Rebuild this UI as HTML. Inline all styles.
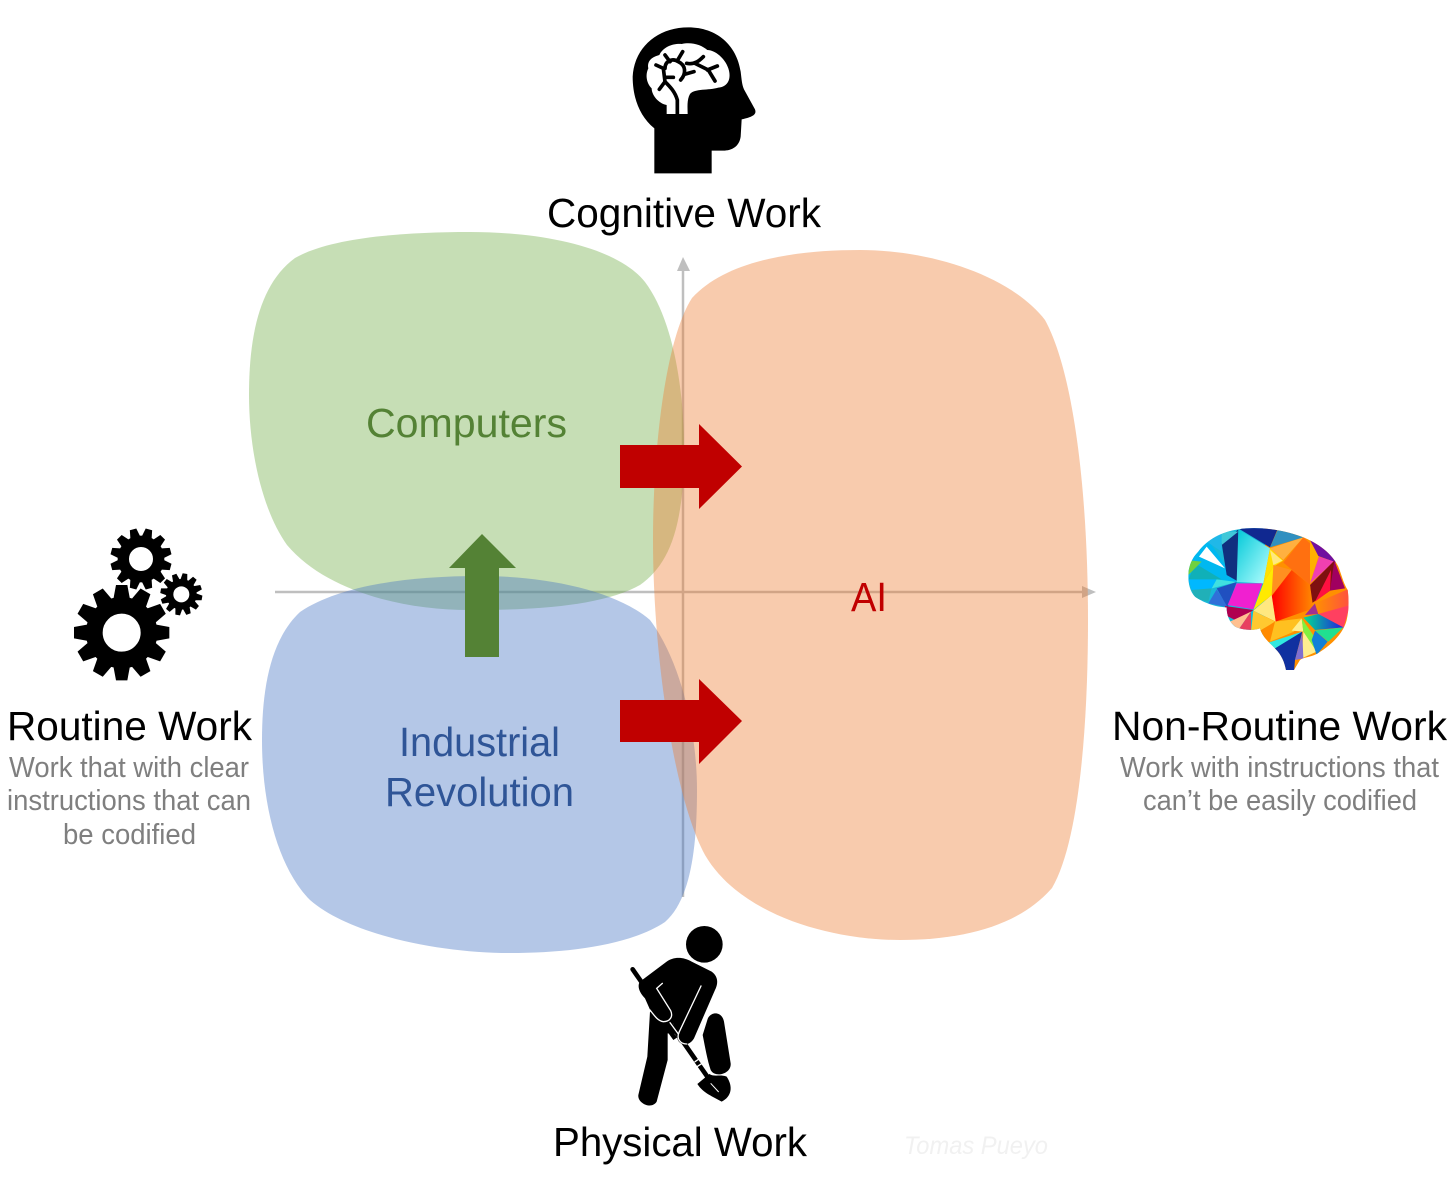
<!DOCTYPE html>
<html><head><meta charset="utf-8"><style>
html,body{margin:0;padding:0;background:#fff}
svg{display:block}
text{font-family:"Liberation Sans",sans-serif}
</style></head><body>
<svg width="1456" height="1184" viewBox="0 0 1456 1184" xmlns="http://www.w3.org/2000/svg">
<rect width="1456" height="1184" fill="#fff"/>
<defs>
<linearGradient id="g1" x1="0" y1="0" x2="1" y2="0"><stop offset="0" stop-color="#ff0000"/><stop offset="1" stop-color="#ff8a00"/></linearGradient>
<linearGradient id="g2" x1="0" y1="0" x2="1" y2="1"><stop offset="0" stop-color="#00c8d8"/><stop offset="1" stop-color="#b8ffff"/></linearGradient>
<linearGradient id="g3" x1="0" y1="0" x2="1" y2="0"><stop offset="0" stop-color="#ff9000"/><stop offset="1" stop-color="#ff5040"/></linearGradient>
<linearGradient id="g4" x1="0" y1="0" x2="1" y2="0"><stop offset="0" stop-color="#00e090"/><stop offset="1" stop-color="#2020e0"/></linearGradient>
<clipPath id="bc"><path d="M40 170C40 140 50 115 70 95C95 60 140 35 190 28C240 20 310 25 380 50C430 70 470 100 490 140C500 165 505 190 518 210C522 240 522 270 515 300C505 340 470 375 425 402C405 412 385 412 375 420L357 450H333C328 425 320 405 300 385C280 365 262 350 255 325C235 333 200 330 180 320C162 305 155 285 155 262C120 262 80 245 60 230C45 215 40 190 40 170Z"/></clipPath>
<path id="t1" fill="#000" d="M-25 -100L-17 -143H17L25 -100Z"/>
<path id="t2" fill="#000" d="M-16 -62L-10 -92H10L16 -62Z"/>
<path id="t3" fill="#000" d="M-11 -40L-7 -63H7L11 -40Z"/>
</defs>

<!-- axes -->
<g stroke="#bfbfbf" stroke-width="2.500" fill="#bfbfbf">
<line x1="275" y1="592" x2="1084" y2="592"/>
<line x1="683" y1="897" x2="683" y2="270"/>
<path d="M1096 592L1082 586V598Z" stroke="none"/>
<path d="M683 257L677 271H690Z" stroke="none"/>
</g>

<!-- blobs -->
<path fill="#70ad47" fill-opacity=".4" d="M470 232C545 232 618 248 645 282C672 318 684 385 684 450C684 530 668 565 640 585C600 607 530 610 470 610C400 610 325 590 287 545C262 510 249 450 249 395C249 340 258 285 295 258C330 238 400 232 470 232Z"/>
<path fill="#4472c4" fill-opacity=".4" d="M480 576C545 576 615 590 650 620C680 660 697 730 697 790C697 850 690 900 665 922C630 945 570 953 510 953C440 953 350 935 310 900C280 870 262 810 262 740C262 690 270 640 300 612C340 585 410 576 480 576Z"/>
<path fill="#ed7d31" fill-opacity=".4" d="M860 250C930 250 1010 275 1045 320C1075 375 1088 500 1088 620C1088 720 1080 840 1052 888C1020 925 965 940 900 940C830 940 740 915 705 855C675 800 653 660 653 540C653 450 665 340 692 298C725 262 790 250 860 250Z"/>

<!-- arrows -->
<path fill="#c00000" d="M620 445H699V424L742 466.500L699 509V488H620Z"/>
<path fill="#c00000" d="M620 700H699V679L742 721L699 764V742H620Z"/>
<path fill="#548235" d="M465 657V568H449L482 534L516 568H499V657Z"/>

<!-- labels -->
<text x="547" y="227" font-size="41" textLength="274" lengthAdjust="spacingAndGlyphs" fill="#000">Cognitive Work</text>
<text x="366" y="437" font-size="41" textLength="201" lengthAdjust="spacingAndGlyphs" fill="#548235">Computers</text>
<text x="399" y="756" font-size="41" textLength="161" lengthAdjust="spacingAndGlyphs" fill="#2f5597">Industrial</text>
<text x="385" y="806" font-size="41" textLength="189" lengthAdjust="spacingAndGlyphs" fill="#2f5597">Revolution</text>
<text x="851" y="611" font-size="41" textLength="36" lengthAdjust="spacingAndGlyphs" fill="#c00000">AI</text>
<text x="7" y="740" font-size="41" textLength="245" lengthAdjust="spacingAndGlyphs" fill="#000">Routine Work</text>
<text x="9" y="777" font-size="29" textLength="240" lengthAdjust="spacingAndGlyphs" fill="#7f7f7f">Work that with clear</text>
<text x="7" y="810" font-size="29" textLength="244" lengthAdjust="spacingAndGlyphs" fill="#7f7f7f">instructions that can</text>
<text x="63" y="844" font-size="29" textLength="133" lengthAdjust="spacingAndGlyphs" fill="#7f7f7f">be codified</text>
<text x="1112" y="740" font-size="41" textLength="335" lengthAdjust="spacingAndGlyphs" fill="#000">Non-Routine Work</text>
<text x="1120" y="777" font-size="29" textLength="319" lengthAdjust="spacingAndGlyphs" fill="#7f7f7f">Work with instructions that</text>
<text x="1143" y="810" font-size="29" textLength="274" lengthAdjust="spacingAndGlyphs" fill="#7f7f7f">can’t be easily codified</text>
<text x="553" y="1156" font-size="41" textLength="254" lengthAdjust="spacingAndGlyphs" fill="#000">Physical Work</text>
<text x="904" y="1154" font-size="25" font-style="italic" textLength="144" lengthAdjust="spacingAndGlyphs" fill="#f1f1f1">Tomas Pueyo</text>

<!-- head -->
<g transform="translate(620,20) scale(.33333)">
<path fill="#000" d="M103 460V325C60 290 38 235 38 170C42 85 110 22 205 22C290 22 350 75 362 155C365 180 366 195 372 208L405 268C410 282 402 290 365 298L362 350C358 380 335 392 310 392H275V460Z"/>
<path fill="#fff" d="M140 282V255C115 250 95 225 95 205C80 190 75 165 85 145C80 120 100 110 118 105C130 80 160 70 185 72C215 65 245 75 262 90C285 90 315 115 325 145C335 175 325 200 295 203C265 212 225 205 210 222C200 240 203 262 203 282Z"/>
<g fill="none" stroke="#000" stroke-width="11" stroke-linecap="round">
<path d="M172 282V240C165 215 150 200 135 185L130 145L108 135"/>
<path d="M135 185L118 208"/>
<path d="M135 172L160 172"/>
<path d="M135 145C135 125 155 112 175 125C197 135 200 160 182 180"/>
<path d="M150 125L135 105"/>
<path d="M172 122L188 95"/>
<path d="M200 130C225 135 240 120 250 110"/>
<path d="M225 130L265 150L285 183"/>
<path d="M262 150L292 138"/>
<path d="M197 162L222 155"/>
</g>
<path fill="none" stroke="#000" stroke-width="6" d="M172 282V240"/>
</g>

<!-- gears -->
<g transform="translate(65,520) scale(.33333)">
<g transform="translate(228,117)">
<circle r="53" fill="none" stroke="#000" stroke-width="34"/>
<use href="#t2" transform="rotate(15)"/><use href="#t2" transform="rotate(45)"/><use href="#t2" transform="rotate(75)"/><use href="#t2" transform="rotate(105)"/><use href="#t2" transform="rotate(135)"/><use href="#t2" transform="rotate(165)"/><use href="#t2" transform="rotate(195)"/><use href="#t2" transform="rotate(225)"/><use href="#t2" transform="rotate(255)"/><use href="#t2" transform="rotate(285)"/><use href="#t2" transform="rotate(315)"/><use href="#t2" transform="rotate(345)"/>
</g>
<g transform="translate(349,223)">
<circle r="35" fill="none" stroke="#000" stroke-width="22"/>
<use href="#t3" transform="rotate(10)"/><use href="#t3" transform="rotate(40)"/><use href="#t3" transform="rotate(70)"/><use href="#t3" transform="rotate(100)"/><use href="#t3" transform="rotate(130)"/><use href="#t3" transform="rotate(160)"/><use href="#t3" transform="rotate(190)"/><use href="#t3" transform="rotate(220)"/><use href="#t3" transform="rotate(250)"/><use href="#t3" transform="rotate(280)"/><use href="#t3" transform="rotate(310)"/><use href="#t3" transform="rotate(340)"/>
</g>
<g transform="translate(170,338)">
<circle r="82" fill="none" stroke="#000" stroke-width="50"/>
<use href="#t1"/><use href="#t1" transform="rotate(30)"/><use href="#t1" transform="rotate(60)"/><use href="#t1" transform="rotate(90)"/><use href="#t1" transform="rotate(120)"/><use href="#t1" transform="rotate(150)"/><use href="#t1" transform="rotate(180)"/><use href="#t1" transform="rotate(210)"/><use href="#t1" transform="rotate(240)"/><use href="#t1" transform="rotate(270)"/><use href="#t1" transform="rotate(300)"/><use href="#t1" transform="rotate(330)"/>
</g>
</g>

<!-- colourful brain -->
<g transform="translate(1175,520) scale(.33333)"><g clip-path="url(#bc)">
<rect x="30" y="20" width="240" height="440" fill="#18b8d8"/>
<rect x="270" y="20" width="270" height="440" fill="#ff9000"/>
<path fill="#00b8f0" d="M40 100L100 60L185 185L40 180Z"/>
<path fill="#ffffff" d="M72 110L95 80L150 145Z"/>
<path fill="#10b0b8" d="M40 180L60 130L140 178Z"/>
<path fill="#70d040" d="M30 120L80 125L40 165Z"/>
<path fill="#00b8ff" d="M40 178H125L110 205L50 210Z"/>
<path fill="#20b0b8" d="M50 210L110 205L100 245L60 235Z"/>
<path fill="#3070d8" d="M125 208L160 262L100 250Z"/>
<path fill="#40e0e0" d="M125 178L185 186L110 205Z"/>
<path fill="#2050c0" d="M125 205L185 186L158 262Z"/>
<path fill="#20b8e8" d="M95 65L140 35L140 95Z"/>
<path fill="#10307f" d="M140 70L190 28V185L155 165Z"/>
<path fill="#40c8d8" d="M140 35H190L140 75Z"/>
<path fill="url(#g2)" d="M190 28L285 85L265 190L185 186Z"/>
<path fill="#102890" d="M190 25L310 22L285 82Z"/>
<path fill="#3090c0" d="M285 82L310 25L385 52Z"/>
<path fill="#ffb040" d="M285 85L385 52L325 120Z"/>
<path fill="#ff7010" d="M385 52L405 70L405 195L325 128Z"/>
<path fill="#ffb000" d="M405 65L432 105L405 190Z"/>
<path fill="#7010a0" d="M405 60L440 75L490 130L430 108Z"/>
<path fill="#f040b0" d="M432 110L478 125L405 190Z"/>
<path fill="#801010" d="M478 122L500 190L468 210L410 250L405 195Z"/>
<path fill="#a00060" d="M478 122L510 205L465 212Z"/>
<path fill="#ff1040" d="M468 150L465 212L420 245Z"/>
<path fill="#ffe000" d="M285 85L325 122L295 140L265 190Z"/>
<path fill="#ffe880" d="M285 90L322 122L295 135Z"/>
<path fill="#ff9020" d="M295 135L350 150L290 225Z"/>
<path fill="url(#g1)" d="M350 150L405 195L415 265L302 305L290 228Z"/>
<path fill="#ffea00" d="M265 190L295 140L290 225L235 270Z"/>
<path fill="#ffe880" d="M290 225L302 305L235 272Z"/>
<path fill="#f020d0" d="M185 190H262L235 268L158 255Z"/>
<path fill="#b00050" d="M150 258L235 270L190 305L150 285Z"/>
<path fill="#ffc090" d="M165 305L228 275L190 330Z"/>
<path fill="#e84060" d="M228 275V335L190 330Z"/>
<path fill="#ffc830" d="M235 272L300 305L255 335L228 335Z"/>
<path fill="#ff8a00" d="M300 305L250 335L275 370L310 340Z"/>
<path fill="#ffc020" d="M300 305L380 295L357 335L285 365Z"/>
<path fill="#ffee90" d="M380 295L385 335L350 332Z"/>
<path fill="#80f040" d="M380 295L425 360L420 400L385 335Z"/>
<path fill="#ffee90" d="M385 335L425 395L380 415Z"/>
<path fill="#30e8e0" d="M280 368L382 335L305 392Z"/>
<path fill="#1030a0" d="M382 335L360 420L357 455L333 455L295 388Z"/>
<path fill="#8070d0" d="M382 338L385 415L360 420Z"/>
<path fill="#a03090" d="M420 250L390 285L430 282Z"/>
<path fill="url(#g3)" d="M420 250L525 205L525 255L430 282Z"/>
<path fill="#ff4060" d="M430 282L525 255L505 325Z"/>
<path fill="url(#g4)" d="M385 293L430 282L505 322L420 330Z"/>
<path fill="#20e090" d="M420 332L505 322L460 365Z"/>
<path fill="#1080d8" d="M420 332L458 365L425 405L410 360Z"/>
</g></g>

<!-- worker -->
<g transform="translate(620,920) scale(.33333)">
<circle cx="253" cy="73" r="55" fill="#000"/>
<!-- shovel handle -->
<path fill="none" stroke="#000" stroke-width="14" stroke-linecap="round" d="M38 148L262 470"/>
<!-- blade -->
<path fill="#000" d="M232 492L268 462C285 472 300 462 320 470C340 500 335 530 305 545C280 530 250 520 232 492Z"/>
<path fill="none" stroke="#fff" stroke-width="3" d="M272 490L296 516"/>
<!-- legs -->
<path fill="#000" d="M90 275L143 340H165L150 310ZM90 275L82 410L55 525C52 550 95 570 110 545L143 420V340L165 342Z"/>
<path fill="#000" d="M248 345L262 300C268 275 305 270 312 305L332 430C335 462 285 475 272 450C262 420 256 385 248 345Z"/>
<!-- torso + arms -->
<path fill="#000" d="M60 185L140 125C160 110 190 110 215 125L275 155C295 170 295 190 285 210L222 355C205 385 165 375 172 340L160 310C140 330 110 300 95 280L75 235C55 215 52 195 60 185Z"/>
<path fill="#000" d="M145 320L172 352L160 360L135 325Z"/>
<g fill="none" stroke="#fff" stroke-width="4" stroke-linecap="round">
<path d="M127 190L110 205L152 272C160 290 150 305 130 305C115 303 105 290 90 270"/>
<path d="M243 198L178 335C168 355 180 372 200 372"/>
<path d="M150 308L175 342"/>
<path d="M225 425L250 408M231 440L254 425"/>
</g>
</g>
</svg>
</body></html>
